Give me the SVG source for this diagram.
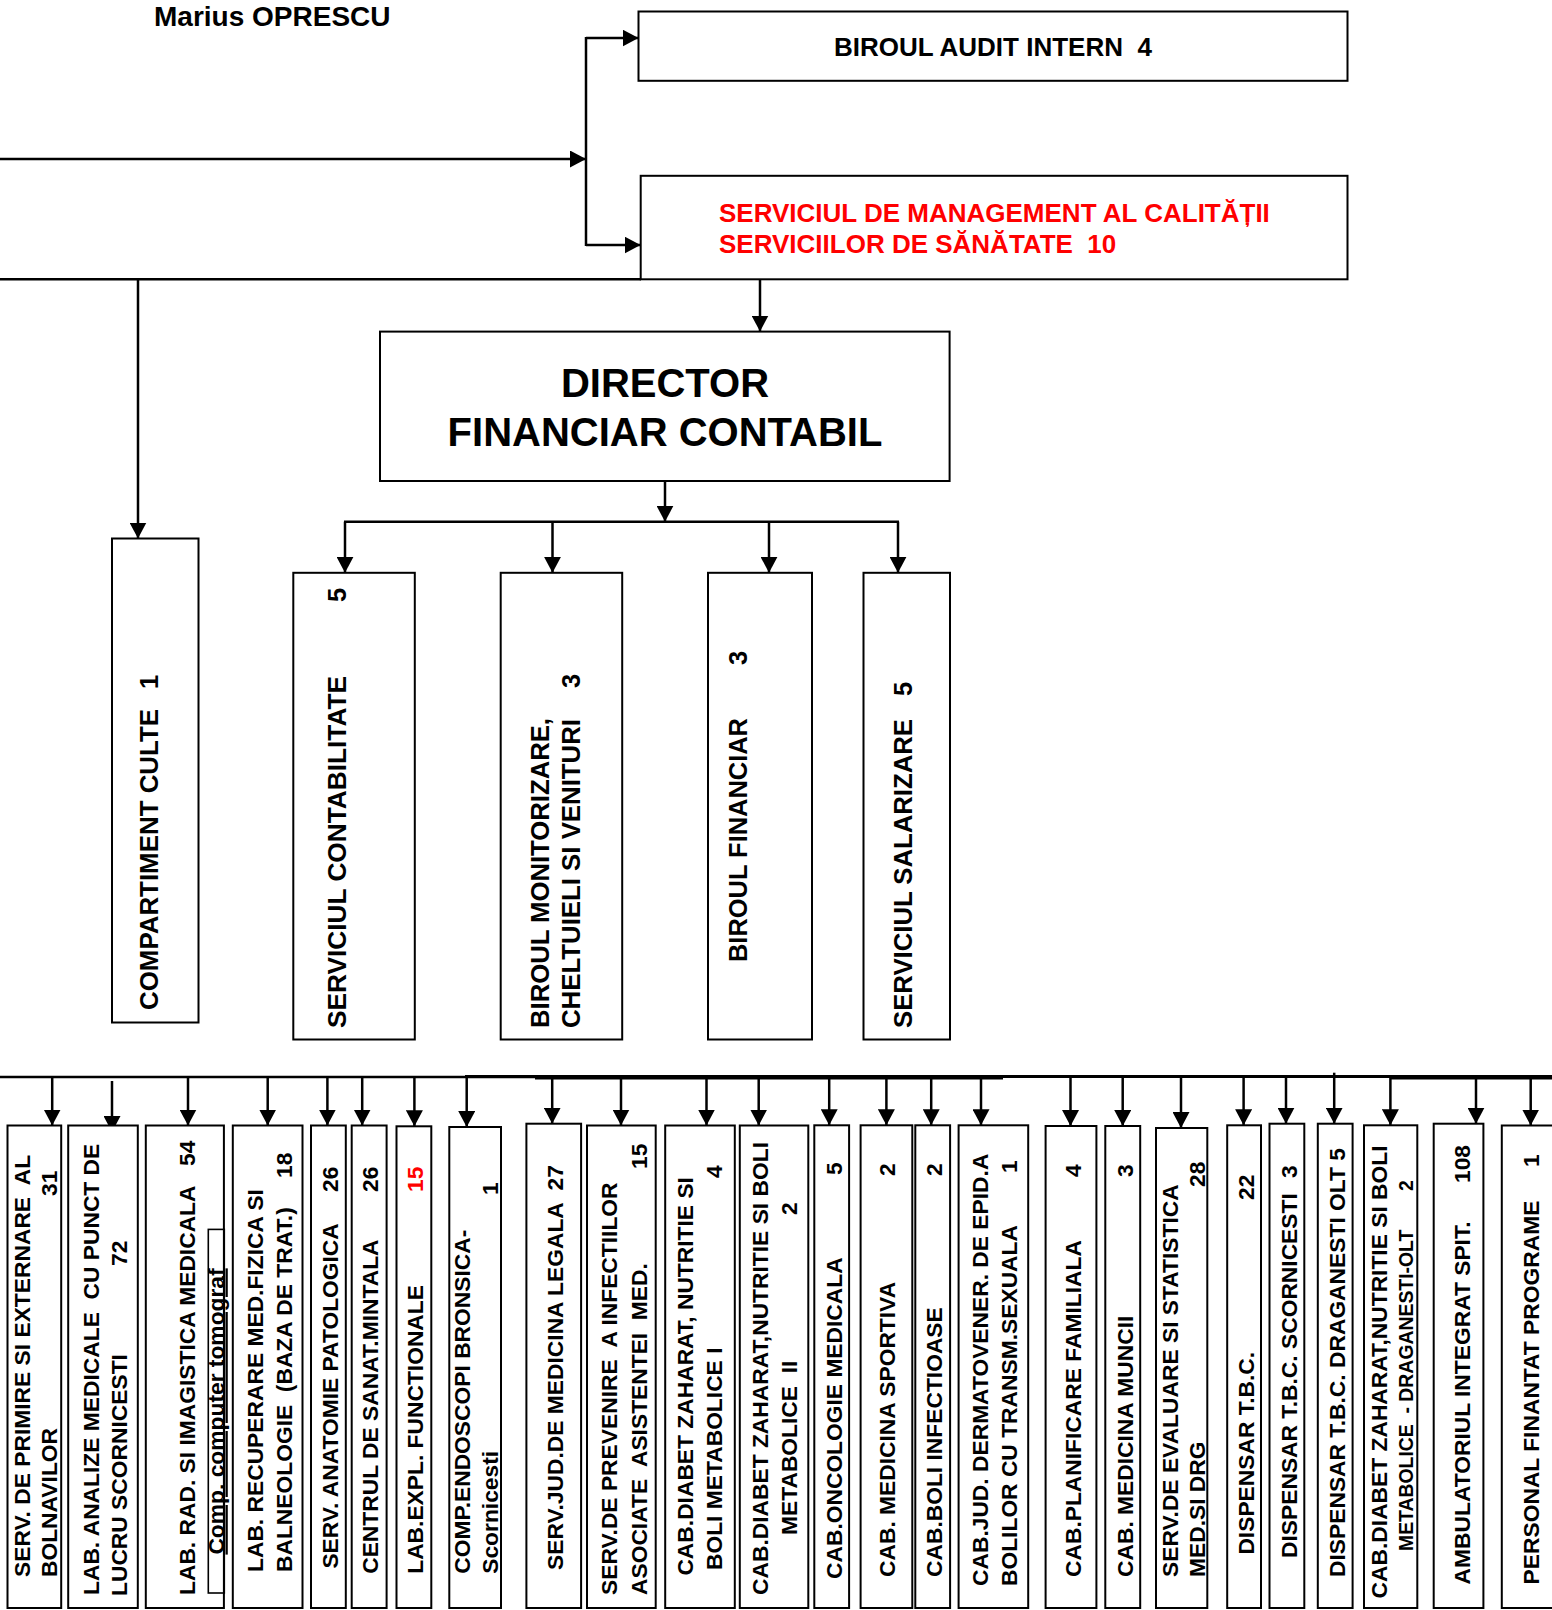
<svg xmlns="http://www.w3.org/2000/svg" width="1552" height="1610" viewBox="0 0 1552 1610">
<style>
.box{fill:#fff;stroke:#000;stroke-width:2}
.ib{fill:none;stroke:#000;stroke-width:1.6}
.t{font-family:"Liberation Sans",Arial,sans-serif;font-weight:bold;fill:#000}
.b{font-size:22.8px}
.m{font-size:25.5px}
.s{font-size:19.4px}
.red{fill:#f00}
.c{stroke:#000;stroke-width:2.5;fill:none}
.a{marker-end:url(#ah)}
</style>
<defs>
<marker id="ah" markerUnits="userSpaceOnUse" markerWidth="17" markerHeight="17" refX="16" refY="8.5" orient="auto" viewBox="0 0 17 17"><path d="M0,0 L16,8.5 L0,17 Z" fill="#000"/></marker>
</defs>
<rect width="1552" height="1610" fill="#fff"/>

<g id="connectors">
<path class="c a" d="M0,159 H586"/>
<path class="c" d="M586,37 V246"/>
<path class="c a" d="M586,38 H638.5"/>
<path class="c a" d="M586,245 H640.5"/>
<path class="c" d="M0,279.3 H641"/>
<path class="c a" d="M138,279.3 V538.5"/>
<path class="c a" d="M760,279.3 V331.5"/>
<path class="c a" d="M665,481 V521.7"/>
<path class="c" d="M344,521.7 H899"/>
<path class="c a" d="M345,521.7 V572.8"/>
<path class="c a" d="M552.5,521.7 V572.8"/>
<path class="c a" d="M769,521.7 V572.8"/>
<path class="c a" d="M898,521.7 V572.8"/>
<path class="c" d="M0,1077 H535"/>
<path class="c" style="stroke-width:3" d="M465,1076.6 H1552"/>
<path class="c" style="stroke-width:4.5" d="M535,1077.3 H1003"/>
<path class="c" style="stroke-width:4.5" d="M1391,1077.3 H1552"/>
<path class="c a" d="M52.2,1077 V1125.5"/>
<path class="c a" d="M112,1081 V1132"/>
<path class="c a" d="M188,1077 V1125.5"/>
<path class="c a" d="M267.7,1077 V1125.5"/>
<path class="c a" d="M327.4,1077 V1125.5"/>
<path class="c a" d="M362.2,1077 V1125.5"/>
<path class="c a" d="M414.4,1077 V1126.3"/>
<path class="c a" d="M466.7,1077 V1127"/>
<path class="c a" d="M552.2,1077 V1123.7"/>
<path class="c a" d="M621,1077 V1125.5"/>
<path class="c a" d="M706.5,1077 V1125.5"/>
<path class="c a" d="M758.7,1077 V1125.5"/>
<path class="c a" d="M829.2,1077 V1125.3"/>
<path class="c a" d="M886.4,1077 V1125.3"/>
<path class="c a" d="M931.2,1077 V1125.3"/>
<path class="c a" d="M981,1077 V1125.3"/>
<path class="c a" d="M1070.5,1077 V1126"/>
<path class="c a" d="M1122.7,1077 V1126"/>
<path class="c a" d="M1181,1077 V1128"/>
<path class="c a" d="M1243.6,1077 V1125.3"/>
<path class="c a" d="M1286,1077 V1123.7"/>
<path class="c a" d="M1334.2,1072.7 V1123.7"/>
<path class="c a" d="M1390.4,1077 V1125.3"/>
<path class="c a" d="M1476,1077 V1123.7"/>
<path class="c a" d="M1530.7,1077 V1125.5"/>
</g>

<g id="title"><text class="t" x="154" y="26" style="font-size:28px">Marius OPRESCU</text></g>

<g id="audit">
<rect class="box" x="638.5" y="11.5" width="709" height="69.3"/>
<text class="t" x="993" y="55.7" text-anchor="middle" style="font-size:26px" xml:space="preserve">BIROUL AUDIT INTERN  4</text>
</g>

<g id="calitate">
<rect class="box" x="640.7" y="175.8" width="706.8" height="103.5"/>
<text class="t red" style="font-size:26px" xml:space="preserve"><tspan x="719" y="221.7">SERVICIUL DE MANAGEMENT AL CALITĂȚII</tspan><tspan x="719" y="252.7">SERVICIILOR DE SĂNĂTATE  10</tspan></text>
</g>

<g id="director">
<rect class="box" x="380" y="331.6" width="569.6" height="149.4"/>
<text class="t" text-anchor="middle" style="font-size:40px"><tspan x="665" y="397.3">DIRECTOR</tspan><tspan x="665" y="446">FINANCIAR CONTABIL</tspan></text>
</g>

<g id="culte">
<rect class="box" x="112" y="538.5" width="86.5" height="484"/>
<text class="t m" transform="rotate(-90)" x="-1010" y="158" textLength="301" lengthAdjust="spacingAndGlyphs">COMPARTIMENT CULTE</text>
<text class="t m" transform="rotate(-90)" x="-689" y="158">1</text>
</g>

<g id="contabilitate">
<rect class="box" x="293.3" y="572.8" width="121.5" height="466.7"/>
<text class="t m" transform="rotate(-90)" x="-1028" y="346" textLength="352" lengthAdjust="spacingAndGlyphs">SERVICIUL CONTABILITATE</text>
<text class="t m" transform="rotate(-90)" x="-602" y="346">5</text>
</g>

<g id="monitorizare">
<rect class="box" x="500.7" y="572.8" width="121.5" height="466.7"/>
<text class="t m" transform="rotate(-90)" x="-1028" y="549" textLength="310" lengthAdjust="spacingAndGlyphs">BIROUL MONITORIZARE,</text>
<text class="t m" transform="rotate(-90)" x="-1028" y="580" textLength="309" lengthAdjust="spacingAndGlyphs">CHELTUIELI SI VENITURI</text>
<text class="t m" transform="rotate(-90)" x="-688" y="580">3</text>
</g>

<g id="financiar">
<rect class="box" x="708" y="572.8" width="104" height="466.7"/>
<text class="t m" transform="rotate(-90)" x="-962" y="747" textLength="244" lengthAdjust="spacingAndGlyphs">BIROUL FINANCIAR</text>
<text class="t m" transform="rotate(-90)" x="-665" y="747">3</text>
</g>

<g id="salarizare">
<rect class="box" x="863.5" y="572.8" width="86.5" height="466.7"/>
<text class="t m" transform="rotate(-90)" x="-1028" y="912" textLength="309" lengthAdjust="spacingAndGlyphs">SERVICIUL SALARIZARE</text>
<text class="t m" transform="rotate(-90)" x="-696" y="912">5</text>
</g>

<g id="primire">
<rect class="box" x="7.5" y="1125.5" width="53.7" height="482.5"/>
<text class="t b" transform="rotate(-90)" xml:space="preserve"><tspan x="-1577" y="30">SERV. DE PRIMIRE SI EXTERNARE  AL</tspan><tspan x="-1577" y="57.3">BOLNAVILOR</tspan><tspan x="-1196" y="57.3">31</tspan></text>
</g>

<g id="analize">
<rect class="box" x="68.2" y="1125.5" width="69.6" height="482.5"/>
<text class="t b" transform="rotate(-90)" xml:space="preserve"><tspan x="-1595" y="99.3">LAB. ANALIZE MEDICALE  CU PUNCT DE</tspan><tspan x="-1596" y="126.7">LUCRU SCORNICESTI</tspan><tspan x="-1266" y="126.7">72</tspan></text>
</g>

<g id="radiologie">
<rect class="box" x="145.8" y="1125.5" width="78.1" height="482.5"/>
<text class="t b" transform="rotate(-90)"><tspan x="-1595" y="195">LAB. RAD. SI IMAGISTICA MEDICALA</tspan><tspan x="-1166" y="195">54</tspan></text>
<g id="tomograf">
<rect class="ib" x="208.3" y="1229.4" width="16" height="363.6"/>
<text class="t b" transform="rotate(-90)" x="-1554.6" y="223.5" text-decoration="underline">Comp. computer tomograf</text>
</g>
</g>

<g id="recuperare">
<rect class="box" x="232.8" y="1125.5" width="69.7" height="482.5"/>
<text class="t b" transform="rotate(-90)" xml:space="preserve"><tspan x="-1572" y="263.3">LAB. RECUPERARE MED.FIZICA SI</tspan><tspan x="-1572" y="291.7">BALNEOLOGIE  (BAZA DE TRAT.)</tspan><tspan x="-1178" y="291.7">18</tspan></text>
</g>

<g id="anatomie">
<rect class="box" x="311" y="1125.5" width="34.8" height="482.5"/>
<text class="t b" transform="rotate(-90)"><tspan x="-1568.6" y="338">SERV. ANATOMIE PATOLOGICA</tspan><tspan x="-1192" y="338">26</tspan></text>
</g>

<g id="sanatate-mintala">
<rect class="box" x="351.7" y="1125.5" width="34.9" height="482.5"/>
<text class="t b" transform="rotate(-90)"><tspan x="-1573.8" y="378">CENTRUL DE SANAT.MINTALA</tspan><tspan x="-1192" y="378">26</tspan></text>
</g>

<g id="explorari">
<rect class="box" x="396.5" y="1126.3" width="34.8" height="481.7"/>
<text class="t b" transform="rotate(-90)"><tspan x="-1573.8" y="423.3">LAB.EXPL. FUNCTIONALE</tspan><tspan class="red" x="-1192" y="423.3">15</tspan></text>
</g>

<g id="endoscopie">
<rect class="box" x="449.3" y="1127" width="51.7" height="481"/>
<text class="t b" transform="rotate(-90)"><tspan x="-1573.8" y="470">COMP.ENDOSCOPI BRONSICA-</tspan><tspan x="-1573.8" y="498">Scornicesti</tspan><tspan x="-1195" y="498">1</tspan></text>
</g>

<g id="medicina-legala">
<rect class="box" x="526.4" y="1123.7" width="54.7" height="484.3"/>
<text class="t b" transform="rotate(-90)"><tspan x="-1570" y="563.3">SERV.JUD.DE MEDICINA LEGALA</tspan><tspan x="-1190.5" y="563.3">27</tspan></text>
</g>

<g id="infectii">
<rect class="box" x="587" y="1125.5" width="68.7" height="482.5"/>
<text class="t b" transform="rotate(-90)" xml:space="preserve"><tspan x="-1595" y="616.7">SERV.DE PREVENIRE  A INFECTIILOR</tspan><tspan x="-1595" y="646.7">ASOCIATE  ASISTENTEI  MED.</tspan><tspan x="-1169" y="646.7">15</tspan></text>
</g>

<g id="diabet-1">
<rect class="box" x="665.2" y="1125.5" width="69.6" height="482.5"/>
<text class="t b" transform="rotate(-90)"><tspan x="-1575.6" y="692.5">CAB.DIABET ZAHARAT, NUTRITIE SI</tspan><tspan x="-1570" y="721.7">BOLI METABOLICE I</tspan><tspan x="-1178" y="721.7">4</tspan></text>
</g>

<g id="diabet-2">
<rect class="box" x="739.8" y="1125.5" width="68.5" height="482.5"/>
<text class="t b" transform="rotate(-90)" xml:space="preserve"><tspan x="-1595" y="767.5">CAB.DIABET ZAHARAT,NUTRITIE SI BOLI</tspan><tspan x="-1535" y="796.7">METABOLICE  II</tspan><tspan x="-1215" y="796.7">2</tspan></text>
</g>

<g id="oncologie">
<rect class="box" x="814.3" y="1125.3" width="34.8" height="482.7"/>
<text class="t b" transform="rotate(-90)"><tspan x="-1579" y="841.7">CAB.ONCOLOGIE MEDICALA</tspan><tspan x="-1175" y="841.7">5</tspan></text>
</g>

<g id="sportiva">
<rect class="box" x="860.6" y="1125.3" width="51.7" height="482.7"/>
<text class="t b" transform="rotate(-90)"><tspan x="-1577" y="895">CAB. MEDICINA SPORTIVA</tspan><tspan x="-1176" y="895">2</tspan></text>
</g>

<g id="infectioase">
<rect class="box" x="915.3" y="1125.3" width="34.8" height="482.7"/>
<text class="t b" transform="rotate(-90)"><tspan x="-1577" y="941.7">CAB.BOLI INFECTIOASE</tspan><tspan x="-1176" y="941.7">2</tspan></text>
</g>

<g id="dermato">
<rect class="box" x="958.6" y="1125.3" width="69.6" height="482.7"/>
<text class="t b" transform="rotate(-90)"><tspan x="-1586" y="988">CAB.JUD. DERMATOVENER. DE EPID.A</tspan><tspan x="-1586" y="1016.5">BOLILOR CU TRANSM.SEXUALA</tspan><tspan x="-1173" y="1016.5">1</tspan></text>
</g>

<g id="planificare">
<rect class="box" x="1045.6" y="1126" width="50.8" height="482"/>
<text class="t b" transform="rotate(-90)"><tspan x="-1577" y="1080.9">CAB.PLANIFICARE FAMILIALA</tspan><tspan x="-1177" y="1080.9">4</tspan></text>
</g>

<g id="muncii">
<rect class="box" x="1105.3" y="1126" width="34.9" height="482"/>
<text class="t b" transform="rotate(-90)"><tspan x="-1577" y="1132.7">CAB. MEDICINA MUNCII</tspan><tspan x="-1177" y="1132.7">3</tspan></text>
</g>

<g id="statistica">
<rect class="box" x="1156" y="1128" width="51.3" height="480"/>
<text class="t b" transform="rotate(-90)"><tspan x="-1577" y="1177.6">SERV.DE EVALUARE SI STATISTICA</tspan><tspan x="-1577" y="1205.3">MED.SI DRG</tspan><tspan x="-1187" y="1205.3">28</tspan></text>
</g>

<g id="tbc">
<rect class="box" x="1227.2" y="1125.3" width="33.8" height="482.7"/>
<text class="t b" transform="rotate(-90)"><tspan x="-1554.6" y="1253.7">DISPENSAR T.B.C.</tspan><tspan x="-1200" y="1253.7">22</tspan></text>
</g>

<g id="tbc-scornicesti">
<rect class="box" x="1269.5" y="1123.7" width="34.8" height="484.3"/>
<text class="t b" transform="rotate(-90)"><tspan x="-1558" y="1296.9">DISPENSAR T.B.C. SCORNICESTI</tspan><tspan x="-1178" y="1296.9">3</tspan></text>
</g>

<g id="tbc-draganesti">
<rect class="box" x="1317.8" y="1123.7" width="34.8" height="484.3"/>
<text class="t b" transform="rotate(-90)" x="-1577" y="1344.6">DISPENSAR T.B.C. DRAGANESTI OLT 5</text>
</g>

<g id="diabet-draganesti">
<rect class="box" x="1364" y="1125.3" width="53.3" height="482.7"/>
<text class="t b" transform="rotate(-90)" x="-1598.4" y="1386.8">CAB.DIABET ZAHARAT,NUTRITIE SI BOLI</text>
<text class="t s" transform="rotate(-90)" xml:space="preserve"><tspan x="-1551" y="1412.7">METABOLICE  - DRAGANESTI-OLT</tspan><tspan x="-1191" y="1412.7">2</tspan></text>
</g>

<g id="ambulatoriu">
<rect class="box" x="1433.7" y="1123.7" width="49.7" height="484.3"/>
<text class="t b" transform="rotate(-90)"><tspan x="-1584.4" y="1469.7">AMBULATORIUL INTEGRAT SPIT.</tspan><tspan x="-1183" y="1469.7">108</tspan></text>
</g>

<g id="programe">
<rect class="box" x="1501.8" y="1125.5" width="60" height="482.5"/>
<text class="t b" transform="rotate(-90)"><tspan x="-1584.4" y="1538.9">PERSONAL FINANTAT PROGRAME</tspan><tspan x="-1167" y="1538.9">1</tspan></text>
</g>
</svg>
